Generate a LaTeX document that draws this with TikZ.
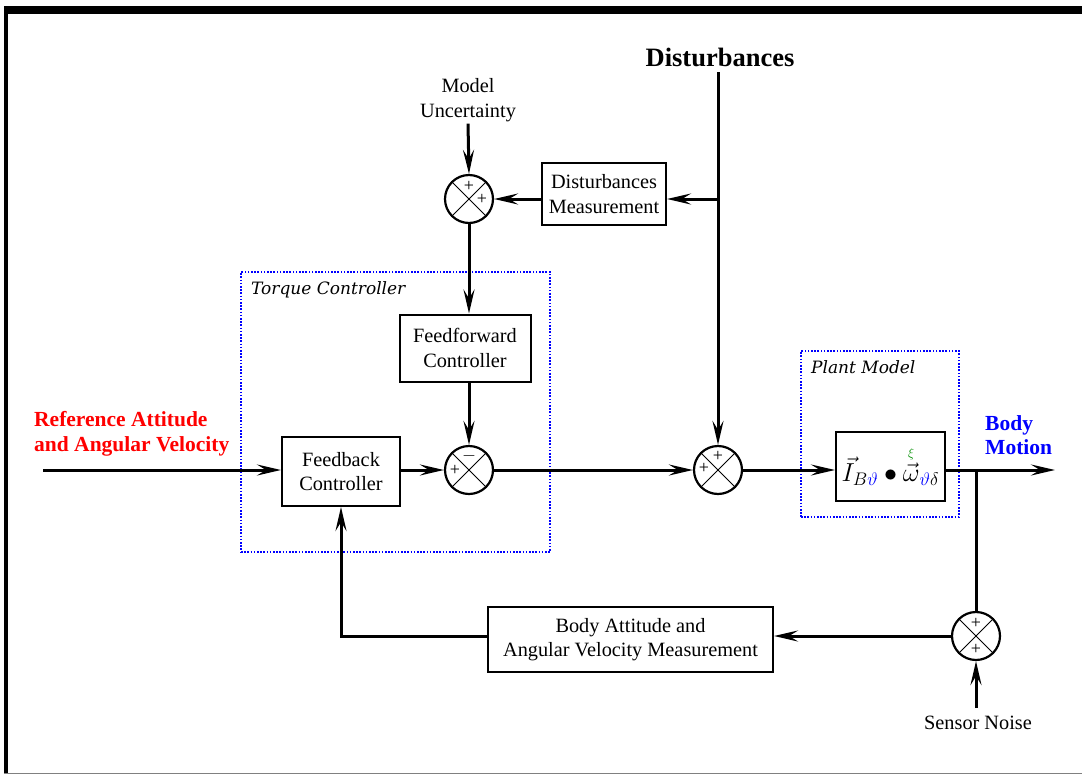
\RequirePackage{fix-cm}
\documentclass[tikz,border=0pt]{standalone}
\usepackage{amsmath}
\usepackage{fontspec}
\setmainfont{Liberation Serif}
\newfontfamily\lblfont{DejaVu Serif}
\usetikzlibrary{arrows.meta}
\begin{document}
\begin{tikzpicture}[x=1pt,y=-1pt,
  txt/.style={align=center, font=\fontsize{20.3}{24.5}\selectfont, inner sep=0pt},
  bld/.style={align=left, font=\fontsize{21.5}{24.5}\selectfont\bfseries, inner sep=0pt, anchor=west},
  blk/.style={draw, line width=2pt, align=center, font=\fontsize{20.3}{24.5}\selectfont, inner sep=0pt},
  sumj/.style={draw, circle, line width=2.2pt, minimum size=48pt, inner sep=0pt},
  sgn/.style={font=\fontsize{18}{18}\selectfont, inner sep=0pt},
  sig/.style={line width=3pt, -{Stealth[length=24pt,width=11pt,inset=9pt]}},
  wire/.style={line width=3pt},
  dotbox/.style={draw=blue, line width=1.8pt, dash pattern=on 1.6pt off 1.6pt, inner sep=0pt},
  lbl/.style={font=\lblfont\itshape\fontsize{17}{19}\selectfont, inner sep=0pt},
  cross/.style={line width=0.9pt}
]
\useasboundingbox (0,0) rectangle (1082,774);
% frame
\fill (4,6) rectangle (1082,13.5);
\fill (4,6) rectangle (7.5,774);
\draw[gray, line width=1pt] (4,773.5) -- (1082,773.5);

% dotted groups
\node[dotbox, minimum width=309, minimum height=280] (tc) at (395.5,412) {};
\node[lbl, anchor=west] (tcl) at (251,290) {Torque Controller};
\node[dotbox, minimum width=158, minimum height=166] (pm) at (880,434) {};
\node[lbl, anchor=west] (pml) at (811,367) {Plant Model};

% texts
\node[font=\fontsize{26.5}{30}\selectfont\bfseries, inner sep=0pt] (dist) at (720,57) {Disturbances};
\node[txt] (mu) at (468,100) {Model\\Uncertainty};
\node[bld, text=red] (ref) at (34,434) {Reference Attitude\\and Angular Velocity};
\node[bld, text=blue] (bm) at (985,435) {Body\\Motion};
\node[txt] (sn) at (978,723) {Sensor Noise};

% blocks
\node[blk, minimum width=124, minimum height=62] (dm) at (604,194) {Disturbances\\Measurement};
\node[blk, minimum width=131, minimum height=67] (ff) at (465,348) {Feedforward\\Controller};
\node[blk, minimum width=118, minimum height=69] (fb) at (341,471.5) {Feedback\\Controller};
\node[blk, minimum width=109, minimum height=69, font=\fontsize{26}{30}\selectfont] (plant) at (890.5,466)
  {$\vec{I}_{B\textcolor{blue}{\vartheta}}\bullet\overset{\textcolor{green!55!black}{\scriptscriptstyle\xi}}{\vec{\omega}}_{\textcolor{blue}{\vartheta}\delta}$};
\node[blk, minimum width=285, minimum height=65] (mm) at (630.5,639.5) {Body Attitude and\\Angular Velocity Measurement};

% summing junctions
\node[sumj] (s1) at (469,199) {};
\node[sumj] (s2) at (469,470) {};
\node[sumj] (s3) at (718,470) {};
\node[sumj] (s4) at (976,636) {};
\foreach \s in {s1,s2,s3,s4} {
  \draw[cross] (\s.45) -- (\s.225) (\s.135) -- (\s.315);
}
\node[sgn] (p1a) at ([yshift=13pt]s1.center) {+};
\node[sgn] (p1b) at ([xshift=13pt]s1.center) {+};
\node[sgn] (p2a) at ([yshift=14pt]s2.center) {$-$};
\node[sgn] (p2b) at ([xshift=-14pt]s2.center) {+};
\node[sgn] (p3a) at ([yshift=14pt]s3.center) {+};
\node[sgn] (p3b) at ([xshift=-14pt,yshift=2pt]s3.center) {+};
\node[sgn] (p4a) at ([yshift=13pt]s4.center) {+};
\node[sgn] (p4b) at ([yshift=-13pt]s4.center) {+};

% coordinates
\coordinate (dtop) at (718,72);
\coordinate (dbr) at (718,199);
\coordinate (rin) at (43,470);
\coordinate (tap) at (976,470);
\coordinate (out) at (1055,470);
\coordinate (snb) at (976,708);

% connectors
\draw[wire] (dtop) -- (dbr);
\draw[sig] (dbr) -- (s3.north);
\draw[sig] (dbr) -- (dm.east |- dbr);
\draw[sig] (dm.west |- s1.east) -- (s1.east);
\draw[sig] ([yshift=-2pt]mu.south) -- (s1.north);
\draw[sig] (s1.south) -- (s1.south |- ff.north);
\draw[sig] (ff.south -| s2.north) -- (s2.north);
\draw[sig] (rin) -- (rin -| fb.west);
\draw[sig] (s2.west -| fb.east) -- (s2.west);
\draw[sig] (s2.east) -- (s3.west);
\draw[sig] (s3.east) -- (s3.east -| plant.west);
\draw[sig] (tap -| plant.east) -- (out);
\draw[wire] (tap) -- (s4.north);
\draw[sig] (snb) -- (s4.south);
\draw[sig] (s4.west) -- (s4.west -| mm.east);
\draw[sig] (s4.west -| mm.west) -- (s4.west -| fb.south) -- (fb.south);
\end{tikzpicture}
\end{document}
